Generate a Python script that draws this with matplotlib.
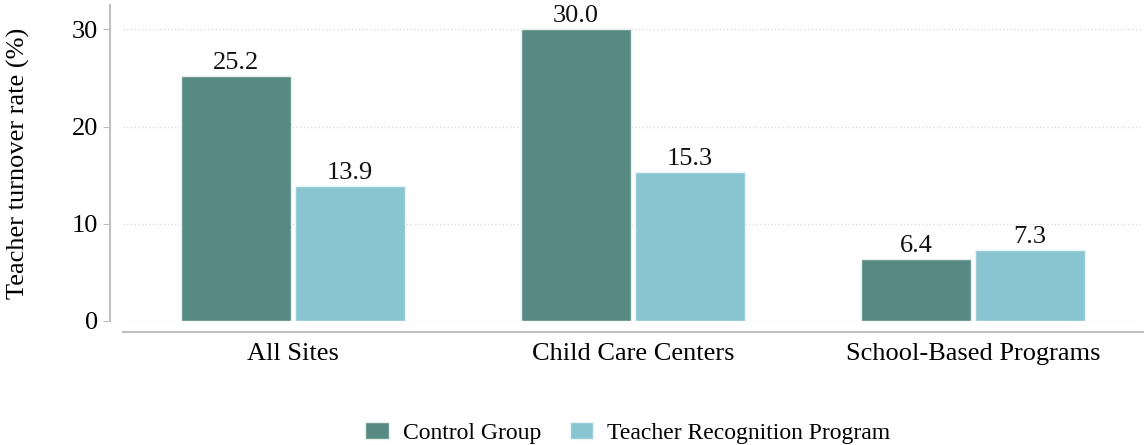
import matplotlib.pyplot as plt
import numpy as np

categories = ["All Sites", "Child Care Centers", "School-Based Programs"]
control = [25.2, 30.0, 6.4]
treatment = [13.9, 15.3, 7.3]
series_names = ["Control Group", "Teacher Recognition Program"]
yticks = [0, 10, 20, 30]

plt.rcParams['font.family'] = ['Liberation Serif', 'DejaVu Serif']

fig = plt.figure(figsize=(11.47, 4.45), dpi=100)
ax = fig.add_axes([0.1072, 0.2787, 0.8893, 0.7101])

x = np.arange(len(categories))
w = 0.325
b1 = ax.bar(x - w / 2 - 0.005, control, w, color='#578a82', edgecolor='#e8f0ee', linewidth=1, label=series_names[0], zorder=3)
b2 = ax.bar(x + w / 2 + 0.005, treatment, w, color='#89c5d0', edgecolor='#e8f4f6', linewidth=1, label=series_names[1], zorder=3)

for bars, vals in [(b1, control), (b2, treatment)]:
    for rect, v in zip(bars, vals):
        ax.text(rect.get_x() + rect.get_width() / 2, v + 0.2, f"{v:.1f}",
                ha='center', va='bottom', fontsize=19, color='#111111')

ax.set_xlim(-0.5, 2.5)
ax.set_ylim(0, 32.5)
ax.set_xticks(x)
ax.set_xticklabels(categories)
ax.set_yticks(yticks)
ax.set_yticklabels([str(t) for t in yticks])
ax.set_ylabel("Teacher turnover rate (%)", fontsize=19, labelpad=30)

ax.grid(axis='y', linestyle=':', color='#dddddd', linewidth=1, zorder=0)
ax.set_axisbelow(True)

for s in ['top', 'right']:
    ax.spines[s].set_visible(False)
ax.spines['left'].set_position(('outward', 9))
ax.spines['bottom'].set_position(('outward', 8))
for s in ['left', 'bottom']:
    ax.spines[s].set_color('#bfbfbf')
    ax.spines[s].set_linewidth(1.5)
ax.tick_params(axis='y', length=5, color='#bfbfbf', pad=4, labelsize=19)
ax.tick_params(axis='x', length=0, pad=8, labelsize=19)

ax.legend(loc='center', bbox_to_anchor=(0.495, -0.355), ncol=2, frameon=False,
          fontsize=17, handlelength=1.0, handleheight=0.7, columnspacing=1.2, handletextpad=0.6)

fig.savefig("out.png", dpi=100)
